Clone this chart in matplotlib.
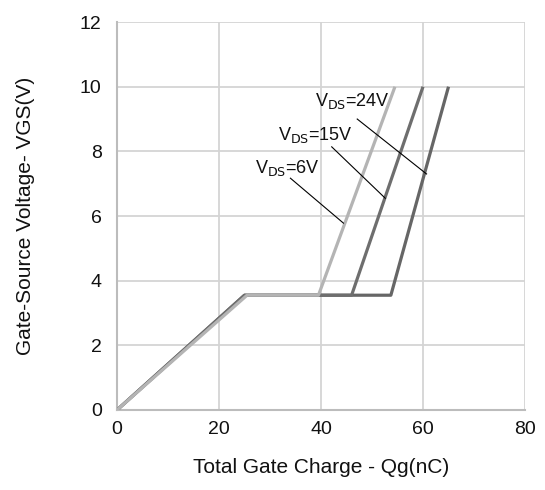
import matplotlib
matplotlib.use("Agg")
import matplotlib.pyplot as plt

plt.rcParams['font.family'] = ['Liberation Sans', 'DejaVu Sans']

# gate charge curves (Qg in nC, Vgs in V)
qg_6v = [0, 25.5, 39.5, 54.5]
vgs_6v = [0, 3.55, 3.55, 10]
qg_15v = [0, 25, 46, 60]
vgs_15v = [0, 3.55, 3.55, 10]
qg_24v = [0, 25, 53.7, 65]
vgs_24v = [0, 3.55, 3.55, 10]

labels = ["V$_{\\rm DS}$=6V", "V$_{\\rm DS}$=15V", "V$_{\\rm DS}$=24V"]
label_pos = [(27, 7.5), (31.5, 8.5), (38.8, 9.55)]
leader_start = [(34.0, 7.17), (42.1, 8.14), (47.1, 9.0)]
leader_end = [(44.4, 5.78), (52.6, 6.55), (60.7, 7.3)]

xticks = [0, 20, 40, 60, 80]
yticks = [0, 2, 4, 6, 8, 10, 12]

fig = plt.figure(figsize=(5.45, 4.9), dpi=100)
ax = fig.add_axes([0.2147, 0.1633, 0.7486, 0.7917])

ax.plot(qg_24v, vgs_24v, color="#666666", lw=2.3, solid_capstyle="butt", zorder=3)
ax.plot(qg_15v, vgs_15v, color="#6e6e6e", lw=2.3, solid_capstyle="butt", zorder=3)
ax.plot(qg_6v, vgs_6v, color="#b4b4b4", lw=2.3, solid_capstyle="butt", zorder=4)

for lab, (tx, ty), (x0, y0), (x1, y1) in zip(labels, label_pos, leader_start, leader_end):
    ax.text(tx, ty, lab, fontsize=13, va="center", ha="left", color="#111111")
    ax.plot([x0, x1], [y0, y1], color="black", lw=0.8, zorder=5)

ax.set_xlim(0, 80)
ax.set_ylim(0, 12)
ax.set_xticks(xticks)
ax.set_yticks(yticks)
ax.grid(True, color="#d4d4d4", lw=1.3)
ax.set_axisbelow(True)
for s in ["top", "right"]:
    ax.spines[s].set_visible(False)
for s in ["left", "bottom"]:
    ax.spines[s].set_color("#bcbcbc")
    ax.spines[s].set_linewidth(1.5)
ax.tick_params(length=0, labelsize=14, colors="#111111")
ax.tick_params(axis="y", pad=11)
ax.tick_params(axis="x", pad=8)

ax.set_xlabel("Total Gate Charge - Qg(nC)", fontsize=15, color="#111111", va="center")
ax.set_ylabel("Gate-Source Voltage- VGS(V)", fontsize=15, color="#111111", va="center")
ax.xaxis.set_label_coords(0.5, -0.147)
ax.yaxis.set_label_coords(-0.225, 0.5)

fig.savefig("out.png", dpi=100)
